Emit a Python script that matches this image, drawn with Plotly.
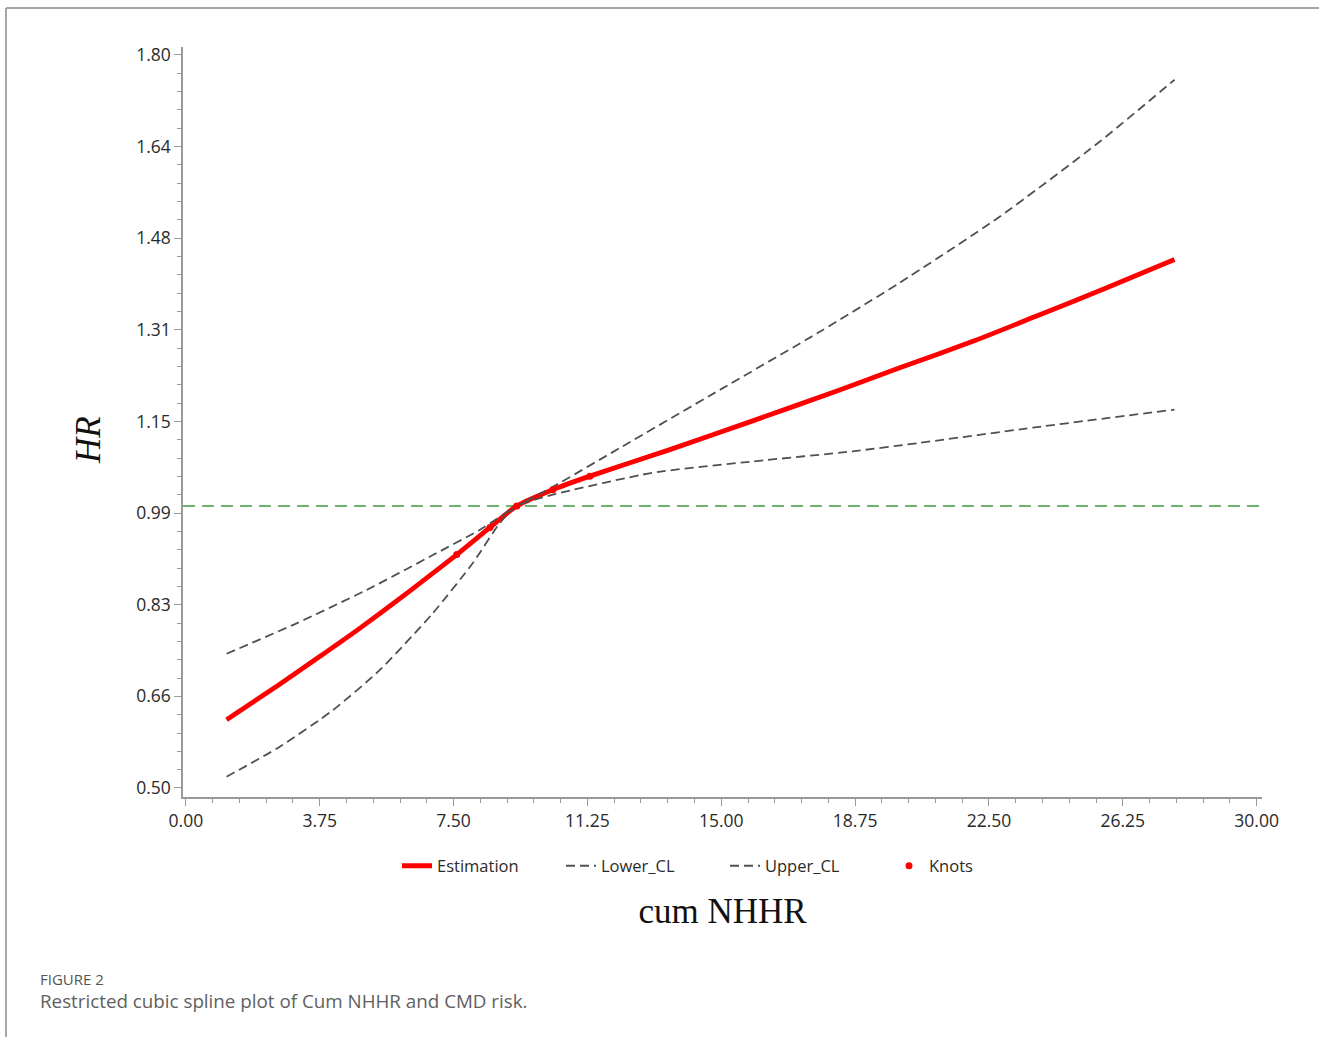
import plotly.graph_objects as go

# ---------------- data ----------------
est_x = [1.14, 2.63, 3.75, 4.87, 6.27, 7.59, 8.52, 9.27, 10.28, 11.32, 13.56, 15.88, 18.24, 20.0, 22.05, 23.8, 25.8, 27.7]
est_hr = [0.621, 0.684, 0.733, 0.783, 0.849, 0.914, 0.962, 1.0, 1.029, 1.053, 1.100, 1.151, 1.204, 1.245, 1.292, 1.336, 1.387, 1.437]

lower_x = [1.14, 2.63, 4.12, 5.43, 6.92, 8.04, 8.8, 9.27, 10.28, 13.08, 15.88, 18.68, 20.56, 23.73, 27.7]
lower_hr = [0.520, 0.573, 0.638, 0.709, 0.810, 0.899, 0.970, 1.0, 1.020, 1.059, 1.079, 1.097, 1.112, 1.139, 1.171]

upper_x = [1.14, 3.10, 5.06, 6.92, 8.24, 9.27, 10.28, 12.16, 14.96, 17.76, 20.0, 22.8, 25.6, 27.7]
upper_hr = [0.738, 0.792, 0.851, 0.913, 0.958, 1.0, 1.034, 1.103, 1.206, 1.309, 1.396, 1.513, 1.646, 1.756]

knot_x = [7.59, 8.52, 9.27, 10.28, 11.32]
knot_hr = [0.914, 0.962, 1.0, 1.029, 1.053]

ref_hr = 1.0

y_tickvals = [0.5, 0.6625, 0.825, 0.9875, 1.15, 1.3125, 1.475, 1.6375, 1.8]
y_ticktext = ["0.50", "0.66", "0.83", "0.99", "1.15", "1.31", "1.48", "1.64", "1.80"]

x_range = [-0.08, 30.15]
y_range = [0.484, 1.814]

# ---------------- figure ----------------
W, H = 1319, 1037
ML, MR, MT, MB = 183, 57, 47, 240
PW, PH = W - ML - MR, H - MT - MB


def px_x(p):
    return (p - ML) / PW


def px_y(p):
    return (H - MB - p) / PH


fig = go.Figure()

fig.add_trace(go.Scatter(
    x=est_x, y=est_hr, name="Estimation", mode="lines",
    line=dict(color="#ff0000", width=4.8, shape="spline", smoothing=0.6),
))
fig.add_trace(go.Scatter(
    x=lower_x, y=lower_hr, name="Lower_CL", mode="lines",
    line=dict(color="#505050", width=1.8, dash="9px,5px", shape="spline", smoothing=0.6),
))
fig.add_trace(go.Scatter(
    x=upper_x, y=upper_hr, name="Upper_CL", mode="lines",
    line=dict(color="#505050", width=1.8, dash="9px,5px", shape="spline", smoothing=0.6),
))
fig.add_trace(go.Scatter(
    x=knot_x, y=knot_hr, name="Knots", mode="markers",
    marker=dict(color="#ff0000", size=7),
))

fig.add_hline(y=ref_hr, line=dict(color="#3f9a3f", width=1.6, dash="12px,7px"), layer="below")

axis_font = dict(family="Open Sans", size=17.5, color="#2a2a2a")

fig.update_xaxes(
    range=x_range, tick0=0, dtick=3.75, tickformat=".2f",
    showgrid=False, zeroline=False, showline=True, linecolor="#9a9a9a", linewidth=1.5,
    ticks="outside", ticklen=7, tickcolor="#9a9a9a", tickwidth=1.3,
    tickfont=axis_font,
    minor=dict(ticks="outside", tick0=0, dtick=0.75, ticklen=4, tickcolor="#9a9a9a", tickwidth=1.2),
    title=dict(text="cum NHHR", font=dict(family="Liberation Serif", size=35, color="#111111"), standoff=68),
    automargin=False,
)
fig.update_yaxes(
    range=y_range, tickmode="array", tickvals=y_tickvals, ticktext=y_ticktext,
    showgrid=False, zeroline=False, showline=True, linecolor="#9a9a9a", linewidth=1.5,
    ticks="outside", ticklen=7, tickcolor="#9a9a9a", tickwidth=1.3,
    tickfont=axis_font,
    minor=dict(ticks="outside", tick0=0.5, dtick=0.0325, ticklen=4, tickcolor="#9a9a9a", tickwidth=1.2),
    automargin=False,
)

# y-axis title (italic serif)
fig.add_annotation(
    text="<i>HR</i>", x=px_x(88), y=px_y(440), xref="paper", yref="paper",
    showarrow=False, textangle=-90, xanchor="center", yanchor="middle",
    font=dict(family="Liberation Serif", size=35, color="#111111"),
)

# caption
fig.add_annotation(
    text="FIGURE 2", x=px_x(38), y=px_y(979), xref="paper", yref="paper",
    showarrow=False, xanchor="left", yanchor="middle",
    font=dict(family="Open Sans", size=15, color="#555555"),
)
fig.add_annotation(
    text="Restricted cubic spline plot of Cum NHHR and CMD risk.", x=px_x(38), y=px_y(1001),
    xref="paper", yref="paper", showarrow=False, xanchor="left", yanchor="middle",
    font=dict(family="Open Sans", size=18.8, color="#606060"),
)

# frame lines (top and left)
fig.add_shape(type="line", xref="paper", yref="paper", x0=px_x(6), x1=px_x(W + 2), y0=px_y(8), y1=px_y(8),
              line=dict(color="#8a8a8a", width=1.5))
fig.add_shape(type="line", xref="paper", yref="paper", x0=px_x(6), x1=px_x(6), y0=px_y(8), y1=px_y(H + 2),
              line=dict(color="#8a8a8a", width=1.5))

fig.update_layout(
    width=W, height=H,
    margin=dict(l=ML, r=MR, t=MT, b=MB, autoexpand=False),
    plot_bgcolor="white", paper_bgcolor="white",
    showlegend=True,
    legend=dict(
        orientation="h", x=px_x(397), xanchor="left", y=px_y(866), yanchor="middle",
        font=dict(family="Open Sans", size=16.5, color="#2a2a2a"),
        entrywidth=119, entrywidthmode="pixels", tracegroupgap=0,
    ),
)

fig.write_html(
    "out.html",
    config={"displayModeBar": False},
    post_script="document.body.style.margin='0';document.body.style.overflow='hidden';",
)
